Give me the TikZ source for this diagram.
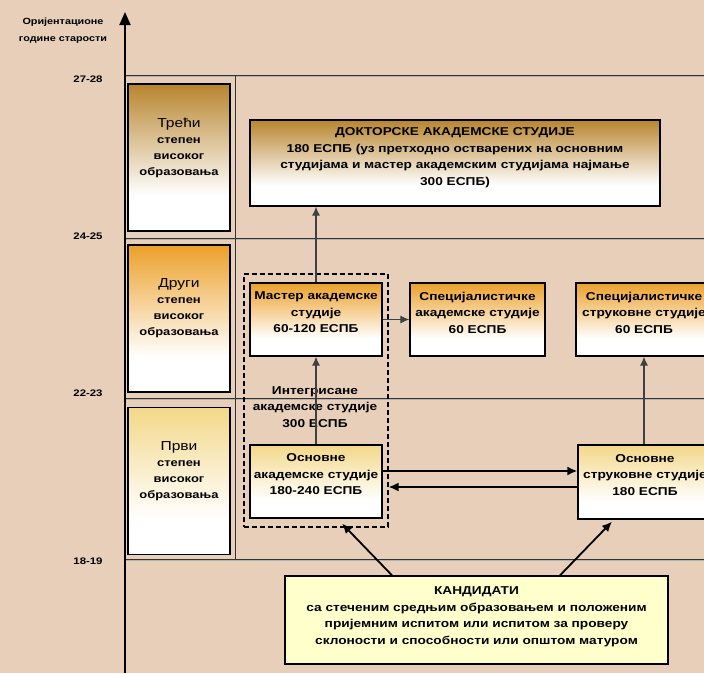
\documentclass[tikz,border=0pt]{standalone}
\usepackage{fontspec}
\setmainfont{Liberation Sans}[FakeStretch=1.2]
\usepackage{tikz}
\usetikzlibrary{arrows.meta}

\definecolor{bgtan}{RGB}{231,207,185}
\definecolor{goldtop}{RGB}{184,133,46}
\definecolor{orangetop}{RGB}{236,160,42}
\definecolor{yellowtop}{RGB}{243,216,137}
\definecolor{candfill}{RGB}{255,255,204}

% fades: path spans 25bp..75bp of the shading
\pgfdeclareverticalshading{goldfade}{100bp}{color(0bp)=(white); color(37bp)=(white); color(75bp)=(goldtop); color(100bp)=(goldtop)}
\pgfdeclareverticalshading{orangefade}{100bp}{color(0bp)=(white); color(37bp)=(white); color(75bp)=(orangetop); color(100bp)=(orangetop)}
\pgfdeclareverticalshading{yellowfade}{100bp}{color(0bp)=(white); color(37bp)=(white); color(75bp)=(yellowtop); color(100bp)=(yellowtop)}

\tikzset{
	levelline/.style={black!80, line width=0.9pt},
	levelbox/.style={draw=black, line width=1.3pt, minimum width=102pt, minimum height=147pt, align=center, text depth=22pt, font=\fontsize{10.8}{16}\selectfont\bfseries},
	studybox/.style={draw=black, line width=1.3pt, minimum width=132pt, minimum height=73pt, align=center, text depth=14pt, font=\fontsize{11.4}{16.5}\selectfont\bfseries},
	agelabel/.style={font=\fontsize{9.5}{12}\selectfont\bfseries},
	conn/.style={black!75, line width=1.1pt, -{Latex[length=9pt,width=8pt]}},
	thickconn/.style={black, line width=1.8pt, -{Latex[length=10pt,width=9pt]}},
}

\begin{document}
\begin{tikzpicture}[x=1pt,y=-1pt]
	\useasboundingbox (0,0) rectangle (704,673);
	\fill[bgtan] (0,0) rectangle (704,673);

	%level lines
	\draw[gray!60, line width=1.6pt] (125,76.5)--(704,76.5);
	\draw[levelline] (125,75)--(704,75);
	\draw[gray!60, line width=1.6pt] (125,239.5)--(704,239.5);
	\draw[levelline] (125,238)--(704,238);
	\draw[gray!60, line width=1.6pt] (125,399.5)--(704,399.5);
	\draw[levelline] (125,398)--(704,398);
	\draw[gray!60, line width=1.6pt] (125,560.5)--(704,560.5);
	\draw[levelline] (125,559)--(704,559);
	\draw[levelline] (235,75)--(235,559);

	%axis
	\draw[black, line width=1.8pt, -{Triangle[length=13pt,width=11pt]}] (125,673)--(125,12);
	\node[agelabel, align=center, font=\fontsize{9}{17}\selectfont\bfseries] (axlabel) at (63,31) {Оријентационе\\године старости};
	\node[agelabel] (age27) at (88,79) {27-28};
	\node[agelabel] (age24) at (88,236) {24-25};
	\node[agelabel] (age22) at (88,393) {22-23};
	\node[agelabel] (age18) at (88,561) {18-19};

	%level boxes
	\node[levelbox, shading=goldfade] (third) at (179,157.5) {{\fontsize{13}{16}\selectfont\mdseries Трећи}\\степен\\високог\\образовања};
	\node[levelbox, shading=orangefade] (second) at (179,318.5) {{\fontsize{13}{16}\selectfont\mdseries Други}\\степен\\високог\\образовања};
	\node[levelbox, shading=yellowfade] (first) at (179,481) {{\fontsize{13}{16}\selectfont\mdseries Први}\\степен\\високог\\образовања};

	%integrated studies
	\node[draw=black, line width=1.1pt, dash pattern=on 5pt off 3pt, minimum width=144pt, minimum height=253pt] (intbox) at (316,400.5) {};
	\node[align=center, font=\fontsize{11.4}{16.5}\selectfont\bfseries] (inttext) at (315,407) {Интегрисане\\академске студије\\300 ЕСПБ};

	%study boxes
	\node[studybox, shading=goldfade, minimum width=410pt, minimum height=86pt, text depth=13pt] (doc) at (455,163) {ДОКТОРСКЕ АКАДЕМСКЕ СТУДИЈЕ\\180 ЕСПБ (уз претходно остварених на основним\\студијама и мастер академским студијама најмање\\300 ЕСПБ)};
	\node[studybox, shading=orangefade] (master) at (316,319.5) {Мастер академске\\студије\\60-120 ЕСПБ};
	\node[studybox, shading=orangefade, minimum width=135pt] (specacad) at (477.5,319.5) {Специјалистичке\\академске студије\\60 ЕСПБ};
	\node[studybox, shading=orangefade, minimum width=136pt] (specprof) at (644,319.5) {Специјалистичке\\струковне студије\\60 ЕСПБ};
	\node[studybox, shading=yellowfade] (basicacad) at (316,481.5) {Основне\\академске студије\\180-240 ЕСПБ};
	\node[studybox, shading=yellowfade, minimum width=134pt, minimum height=74pt] (basicprof) at (645,482) {Основне\\струковне студије\\180 ЕСПБ};
	\node[studybox, fill=candfill, minimum width=383pt, minimum height=88pt, text depth=9pt] (cand) at (476.5,620) {КАНДИДАТИ\\са стеченим средњим образовањем и положеним\\пријемним испитом или испитом за проверу\\склоности и способности или општом матуром};

	%connectors
	\draw[conn] (master.north) -- (master.north |- doc.south);
	\draw[conn] (basicacad.north) -- (master.south);
	\draw[conn] (master.east) -- (specacad.west);
	\draw[conn] (basicprof.north -| specprof.south) -- (specprof.south);
	\draw[thickconn] ([yshift=10.5pt]basicacad.east) -- ([yshift=10.5pt]basicacad.east -| basicprof.west);
	\draw[thickconn] ([yshift=-5pt]basicprof.west) -- ([yshift=-5pt]basicprof.west -| intbox.east);
	\draw[thickconn] ([xshift=-84.5pt]cand.north) -- ([xshift=26pt, yshift=4pt]intbox.south);
	\draw[thickconn] ([xshift=83.5pt]cand.north) -- ([xshift=-33pt, yshift=-2pt]basicprof.south);
\end{tikzpicture}
\end{document}
